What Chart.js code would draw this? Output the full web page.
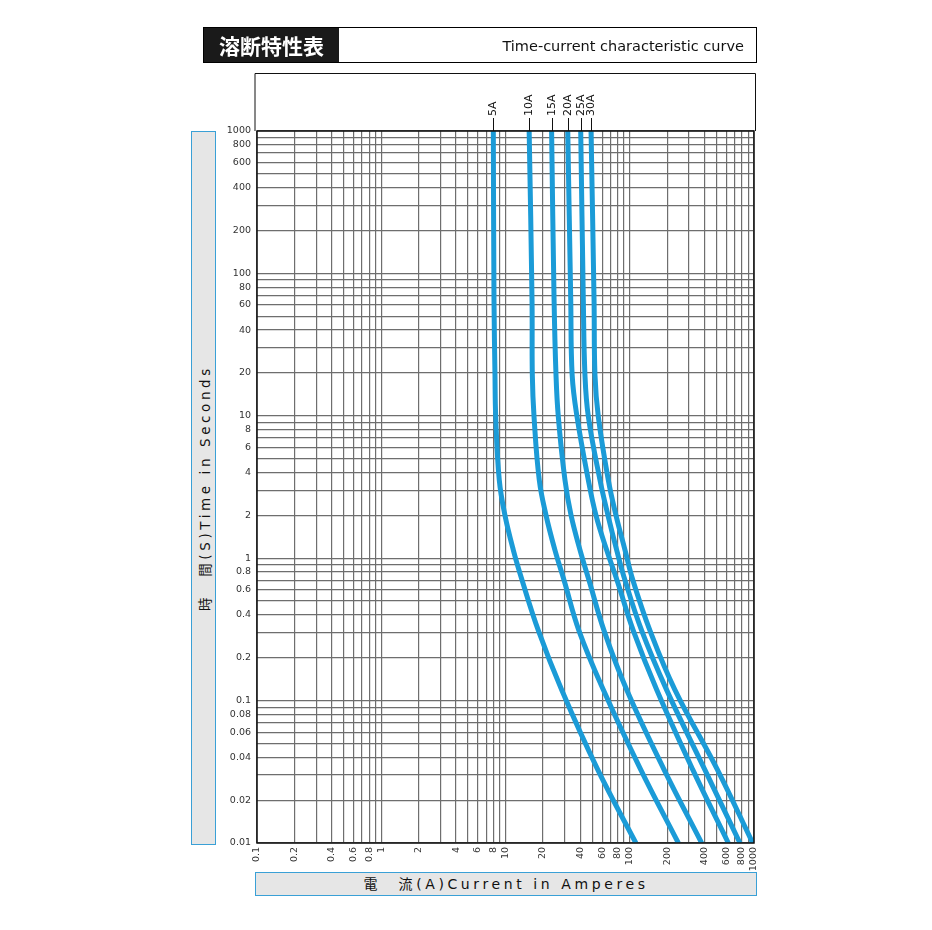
<!DOCTYPE html>
<html>
<head>
<meta charset="utf-8">
<script src="https://cdn.jsdelivr.net/npm/chart.js@4.4.1/dist/chart.umd.min.js"></script>
<style>
  html, body { margin: 0; padding: 0; background: #fff; }
  #wrap { position: relative; width: 932px; height: 930px; font-family: "Noto Sans CJK JP", "DejaVu Sans", sans-serif; }
  #chart { position: absolute; left: 0; top: 0; }
  .head { position: absolute; left: 203px; top: 27px; width: 552px; height: 34px; border: 1px solid #000; }
  .head .jp { position: absolute; left: 0; top: 0; width: 135px; height: 34px; background: #1a1a1a; color: #fff;
    font-size: 21px; font-weight: bold; line-height: 34px; text-align: center; }
  .head .en { position: absolute; right: 12px; top: 0; line-height: 36px; font-size: 14.5px; color: #111; font-family: "DejaVu Sans", sans-serif; }
  .ylab { position: absolute; left: 191px; top: 131px; width: 23px; height: 712px; background: #e6e6e6; border: 1px solid #3aa0d6; }
  .ylab span { position: absolute; left: 50%; top: 50%; transform: translate(-50%, -50%) rotate(-90deg); white-space: nowrap;
    font-size: 13.5px; letter-spacing: 3.6px; color: #111; font-family: "DejaVu Sans", "Noto Sans CJK JP", sans-serif; }
  .xlab { position: absolute; left: 255px; top: 872px; width: 500px; height: 22px; background: #e6e6e6; border: 1px solid #3aa0d6;
    text-align: center; line-height: 23px; font-size: 14px; letter-spacing: 3.6px; color: #111; font-family: "DejaVu Sans", "Noto Sans CJK JP", sans-serif; }
</style>
</head>
<body>
<div id="wrap">
  <canvas id="chart" width="932" height="930"></canvas>
  <div class="head"><div class="jp">溶断特性表</div><div class="en">Time-current characteristic curve</div></div>
  <div class="ylab"><span>時　間(S)Time in Seconds</span></div>
  <div class="xlab">電　流(A)Current in Amperes</div>
</div>
<script>
// 시간 (s) — shared by every curve
const times = [1000, 65, 19.3, 9.9, 3.54, 2, 1.14, 0.7, 0.31, 0.119, 0.033, 0.01];
// 전류 (A) per rating
const amps5 = [7.98, 8.08, 8.23, 8.34, 8.91, 9.9, 11.56, 13.6, 18.4, 28.3, 55, 112];
const amps10 = [15.5, 16.35, 16.44, 16.96, 18.7, 21.2, 25.0, 29.6, 39.0, 61.3, 122, 246];
const amps15 = [23.5, 24.6, 25.5, 26.6, 30.1, 33.7, 39.8, 47.0, 62.1, 94.5, 188, 379];
const amps20 = [31.7, 33.5, 34.4, 37.6, 46.4, 53.5, 65.2, 79, 106.8, 164.8, 320, 621];
const amps25 = [40.3, 42.3, 43.6, 46.4, 57.6, 66.8, 78.5, 91.6, 124.8, 198, 400, 771];
const amps30 = [48.8, 51.6, 52.5, 55.8, 67.2, 77.5, 91.6, 106, 145.5, 231, 505, 976];
const ratings = ['5A', '10A', '15A', '20A', '25A', '30A'];
const seriesAmps = [amps5, amps10, amps15, amps20, amps25, amps30];

// 눈금
const xTickLabels = [0.1, 0.2, 0.4, 0.6, 0.8, 1, 2, 4, 6, 8, 10, 20, 40, 60, 80, 100, 200, 400, 600, 800, 1000];
const yTickLabels = [1000, 800, 600, 400, 200, 100, 80, 60, 40, 20, 10, 8, 6, 4, 2, 1, 0.8, 0.6, 0.4, 0.2, 0.1, 0.08, 0.06, 0.04, 0.02, 0.01];

function gridValues(lo, hi) {
  const out = [];
  for (let e = lo; e < hi; e++) {
    for (let m = 1; m <= 9; m++) out.push(+(m * Math.pow(10, e)).toPrecision(3));
  }
  out.push(Math.pow(10, hi));
  return out;
}

const blue = '#1b9bd7';
const datasets = ratings.map((r, i) => ({
  label: r,
  data: seriesAmps[i].map((a, j) => ({ x: a, y: times[j] })),
  borderColor: blue,
  borderWidth: 5,
  pointRadius: 0,
  tension: 0.4,
  fill: false
}));

// 테두리 + 정격 라벨
const framePlugin = {
  id: 'frame',
  afterDraw(chart) {
    const { ctx, chartArea: a, scales } = chart;
    ctx.save();
    ctx.strokeStyle = '#111';
    ctx.lineWidth = 1.5;
    ctx.strokeRect(a.left, a.top, a.right - a.left, a.bottom - a.top);
    // label box above the plot
    ctx.lineWidth = 1;
    ctx.beginPath();
    ctx.moveTo(a.left - 2, a.top);
    ctx.lineTo(a.left - 2, 73.5);
    ctx.lineTo(a.right + 1.5, 73.5);
    ctx.lineTo(a.right + 1.5, a.top);
    ctx.stroke();
    ctx.font = '11px "DejaVu Sans", sans-serif';
    ctx.fillStyle = '#111';
    ctx.textAlign = 'left';
    ctx.textBaseline = 'middle';
    chart.data.datasets.forEach(ds => {
      const x = Math.round(scales.x.getPixelForValue(ds.data[0].x)) + 0.5;
      ctx.beginPath();
      ctx.moveTo(x, 118);
      ctx.lineTo(x, a.top);
      ctx.stroke();
      ctx.save();
      ctx.translate(x, 116);
      ctx.rotate(-Math.PI / 2);
      ctx.fillText(ds.label, 0, 0);
      ctx.restore();
    });
    ctx.restore();
  }
};

const config = {
  type: 'line',
  data: { datasets },
  options: {
    responsive: false,
    animation: false,
    layout: { padding: { left: 207, right: 178, top: 131, bottom: 47 } },
    plugins: { legend: { display: false }, tooltip: { enabled: false } },
    scales: {
      x: {
        type: 'logarithmic',
        min: 0.1,
        max: 1000,
        afterBuildTicks(scale) { scale.ticks = gridValues(-1, 3).map(v => ({ value: v })); },
        afterFit(scale) { scale.height = 40; },
        grid: { color: '#6e6e6e', lineWidth: 1.2, drawTicks: false },
        border: { display: false },
        ticks: {
          autoSkip: false,
          minRotation: 90,
          maxRotation: 90,
          padding: 4,
          color: '#333',
          font: { family: '"DejaVu Sans", sans-serif', size: 9.5 },
          callback(v) { return xTickLabels.includes(v) ? String(v) : ''; }
        }
      },
      y: {
        type: 'logarithmic',
        min: 0.01,
        max: 1000,
        afterBuildTicks(scale) { scale.ticks = gridValues(-2, 3).map(v => ({ value: v })); },
        afterFit(scale) { scale.width = 50; },
        grid: { color: '#6e6e6e', lineWidth: 1.2, drawTicks: false },
        border: { display: false },
        ticks: {
          autoSkip: false,
          padding: 6,
          color: '#333',
          font: { family: '"DejaVu Sans", sans-serif', size: 9.5 },
          callback(v) { return yTickLabels.includes(v) ? String(v) : ''; }
        }
      }
    }
  },
  plugins: [framePlugin]
};

var fuseChart = new Chart(document.getElementById('chart'), config);
</script>
</body>
</html>
